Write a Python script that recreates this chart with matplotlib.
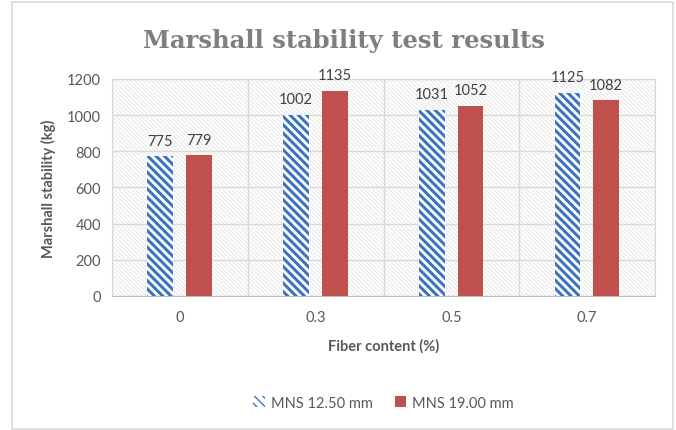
import numpy as np
import matplotlib.pyplot as plt
from matplotlib.patches import Rectangle

# chart values
fiber = ["0", "0.3", "0.5", "0.7"]
mns_125 = [775, 1002, 1031, 1125]
mns_190 = [779, 1135, 1052, 1082]
series_names = ["MNS 12.50 mm", "MNS 19.00 mm"]
yticks = [0, 200, 400, 600, 800, 1000, 1200]

plt.rcParams['font.family'] = ['Lato', 'DejaVu Sans']

fig = plt.figure(figsize=(6.76, 4.31), dpi=100)
ax = fig.add_axes([0.1657, 0.311, 0.8033, 0.5034])

# light hatched plot background
bg = Rectangle((0, 0), 1, 1, transform=ax.transAxes, facecolor='white',
               edgecolor='#e3e3e3', hatch='\\' * 8, linewidth=0, zorder=0)
if hasattr(bg, 'set_hatch_linewidth'):
    bg.set_hatch_linewidth(0.6)
ax.add_patch(bg)

x = np.arange(len(fiber))
w = 0.19
b1 = ax.bar(x - 0.145, mns_125, width=w, facecolor='white', edgecolor='#3d74c0',
            hatch='\\' * 4, linewidth=0, zorder=3, label=series_names[0])
for p in b1:
    if hasattr(p, 'set_hatch_linewidth'):
        p.set_hatch_linewidth(2.2)
b2 = ax.bar(x + 0.14, mns_190, width=w, color='#c0504d', zorder=3,
            label=series_names[1])

for rects, vals in [(b1, mns_125), (b2, mns_190)]:
    for r, v in zip(rects, vals):
        ax.annotate(str(v), (r.get_x() + r.get_width() / 2, v),
                    xytext=(0, 6), textcoords='offset points', ha='center',
                    va='bottom', fontsize=10.5, color='#404040',
                    annotation_clip=False)

ax.set_xlim(-0.5, len(fiber) - 0.5)
ax.set_ylim(0, 1200)
ax.set_yticks(yticks)
ax.set_xticks(x)
ax.set_xticklabels(fiber)
ax.set_xticks(np.arange(len(fiber) + 1) - 0.5, minor=True)
ax.grid(axis='y', color='#d9d9d9', linewidth=1, zorder=1)
ax.grid(axis='x', which='minor', color='#d9d9d9', linewidth=1, zorder=1)
ax.set_axisbelow(True)
for s in ax.spines.values():
    s.set_color('#d9d9d9')
ax.spines['bottom'].set_color('#bfbfbf')
ax.tick_params(which='both', length=0, labelsize=10.5, labelcolor='#595959')
ax.tick_params(axis='x', pad=10)
ax.tick_params(axis='y', pad=8)

ax.set_xlabel('Fiber content (%)', fontsize=10.5, fontweight='bold',
              color='#595959', labelpad=10)
ax.set_ylabel('Marshall stability (kg)', fontsize=10.5, fontweight='bold',
              color='#595959', labelpad=8)

fig.text(0.509, 0.905, 'Marshall stability test results', ha='center',
         va='center', fontsize=17.5, fontweight='bold', color='#7f7f7f',
         family=['DejaVu Serif'])

ax.legend(loc='upper center', bbox_to_anchor=(0.5, -0.40), ncol=2,
          frameon=False, fontsize=10.5, labelcolor='#595959',
          handlelength=0.8, handleheight=0.8, columnspacing=1.5,
          handletextpad=0.4)

fig.patches.append(Rectangle((0.018, 0.003), 0.977, 0.99, transform=fig.transFigure,
                             fill=False, edgecolor='#d9d9d9', linewidth=1.2))

fig.savefig('out.png', dpi=100)
